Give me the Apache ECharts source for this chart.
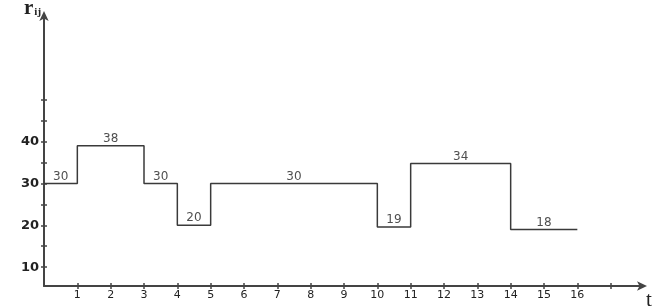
<!DOCTYPE html>
<html>
<head>
<meta charset="utf-8">
<script src="https://cdn.jsdelivr.net/npm/echarts@6/dist/echarts.min.js"></script>
<style>html,body{margin:0;padding:0;background:#fff}#c{width:652px;height:308px}</style>
</head>
<body>
<div id="c"></div>
<script>
// breakpoints on t axis (segment starts, final end)
const breaks = [0, 1, 3, 4, 5, 10, 11, 14, 16];
// drawn level of each segment
const levels = [30, 39, 30, 20, 30, 19.6, 34.8, 19];
// labels written above each segment
const segLabels = ['30', '38', '30', '20', '30', '19', '34', '18'];
// axis ticks and labels
const xTicks = [1,2,3,4,5,6,7,8,9,10,11,12,13,14,15,16,17];
const xLabels = [1,2,3,4,5,6,7,8,9,10,11,12,13,14,15,16];
const yTicks = [10,15,20,25,30,35,40,45,50];
const yLabels = [10,20,30,40];

const stepData = breaks.map((b, i) => [b, levels[Math.min(i, levels.length - 1)]]);
const labelData = levels.map((v, i) => ({value: [(breaks[i] + breaks[i+1]) / 2, v], label: {formatter: segLabels[i]}}));

const axisColor = '#444';
const chart = echarts.init(document.getElementById('c'), null, {renderer: 'canvas'});
const xBase = {type: 'value', min: 0, max: 18, splitLine: {show: false}, gridIndex: 0, position: 'bottom'};
const yBase = {type: 'value', min: 5.5, max: 70.5, splitLine: {show: false}, gridIndex: 0, position: 'left'};
chart.setOption({
  animation: false,
  backgroundColor: '#fff',
  grid: {left: 44, right: 8, top: 14, bottom: 22, containLabel: false},
  title: [
    {text: '{r|r}{s|ij}', left: 19, top: -8,
      textStyle: {rich: {
        r: {fontFamily: 'Liberation Serif', fontWeight: 'bold', fontSize: 21, color: '#222', lineHeight: 24},
        s: {fontFamily: 'Liberation Serif', fontWeight: 'bold', fontSize: 11, color: '#222', lineHeight: 24, padding: [6, 0, 0, 1]}
      }}},
    {text: 't', left: 641, top: 285,
      textStyle: {fontFamily: 'Liberation Serif', fontWeight: 'normal', fontSize: 21, color: '#222'}}
  ],
  xAxis: [
    Object.assign({}, xBase, {
      axisLine: {show: true, lineStyle: {color: axisColor, width: 2}, symbol: ['none', 'arrow'], symbolSize: [7, 10], symbolOffset: [0, 3]},
      axisTick: {show: true, customValues: xTicks, length: 3, lineStyle: {color: axisColor, width: 1.5}},
      axisLabel: {show: true, customValues: xLabels, margin: 4, fontSize: 11, color: '#222', fontFamily: 'DejaVu Sans'}
    }),
    Object.assign({}, xBase, {
      axisLine: {show: false},
      axisTick: {show: true, inside: true, customValues: xTicks, length: 3, lineStyle: {color: axisColor, width: 1.5}},
      axisLabel: {show: false}
    })
  ],
  yAxis: [
    Object.assign({}, yBase, {
      axisLine: {show: true, lineStyle: {color: axisColor, width: 2}, symbol: ['none', 'arrow'], symbolSize: [7, 10], symbolOffset: [0, 3]},
      axisTick: {show: true, customValues: yTicks, length: 3, lineStyle: {color: axisColor, width: 1.5}},
      axisLabel: {show: true, customValues: yLabels, margin: 5, fontSize: 13, fontWeight: 'bold', color: '#222', fontFamily: 'DejaVu Sans'}
    }),
    Object.assign({}, yBase, {
      axisLine: {show: false},
      axisTick: {show: true, inside: true, customValues: yTicks, length: 3, lineStyle: {color: axisColor, width: 1.5}},
      axisLabel: {show: false}
    })
  ],
  series: [
    {type: 'line', step: 'end', data: stepData, symbol: 'none', xAxisIndex: 0, yAxisIndex: 0,
      lineStyle: {color: '#3a3a3a', width: 1.5}, silent: true},
    {type: 'scatter', data: labelData, symbolSize: 0, xAxisIndex: 0, yAxisIndex: 0,
      label: {show: true, position: 'top', distance: 1, fontSize: 12, color: '#222', fontFamily: 'DejaVu Sans'}, silent: true}
  ]
});
</script>
</body>
</html>
